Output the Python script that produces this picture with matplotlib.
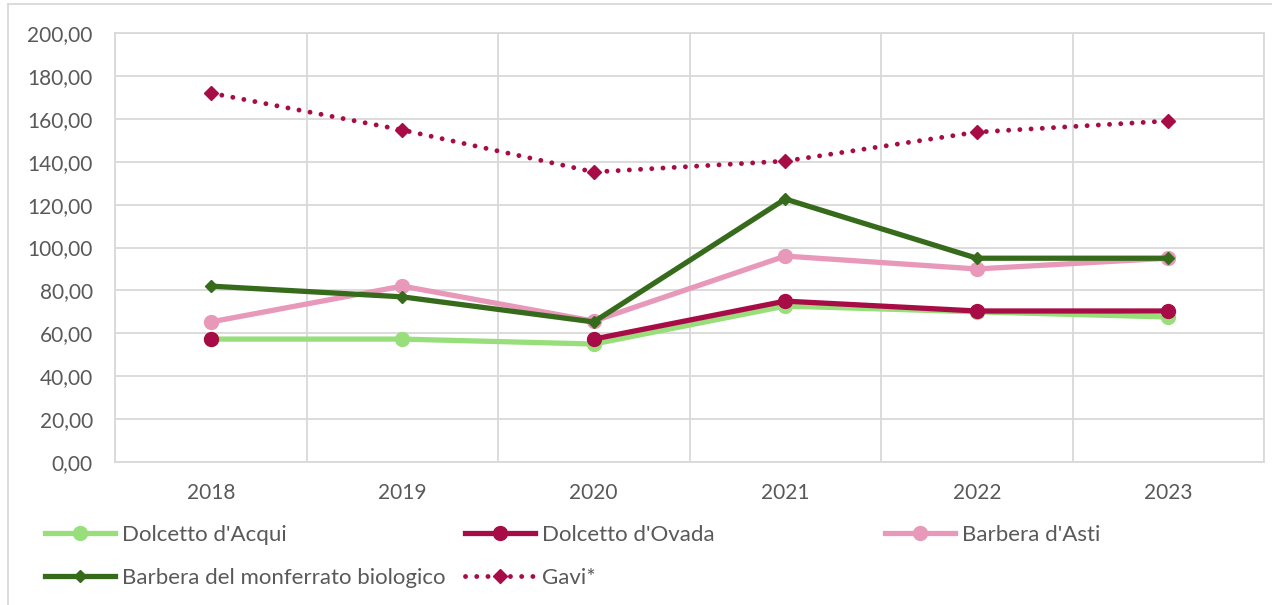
import numpy as np
import matplotlib
matplotlib.use("Agg")
import matplotlib.pyplot as plt
from matplotlib.lines import Line2D

# data (€/q)
years = ["2018", "2019", "2020", "2021", "2022", "2023"]
dolcetto_acqui = [57.3, 57.3, 55.0, 72.7, 70.0, 67.6]
dolcetto_ovada = [57.3, np.nan, 57.3, 75.0, 70.4, 70.4]
barbera_asti = [65.3, 82.0, 65.7, 96.0, 90.0, 95.0]
barbera_monf_bio = [82.0, 77.0, 65.3, 122.6, 95.0, 95.0]
gavi = [172.0, 154.8, 135.2, 140.3, 153.8, 159.0]

plt.rcParams["font.family"] = ["Lato", "DejaVu Sans"]
FS = 15.0
LFS = 16.0
TXT = "#595959"
GRID = "#D9D9D9"

fig = plt.figure(figsize=(12.72, 6.05), dpi=100)
ax = fig.add_axes([115 / 1272, 1 - 462 / 605, (1264 - 115) / 1272, (462 - 33) / 605])

x = np.arange(len(years))

ax.plot(x, dolcetto_acqui, color="#98DF7C", lw=3.8, marker="o", ms=10,
        label="Dolcetto d'Acqui")
ax.plot(x, dolcetto_ovada, color="#A80C47", lw=3.8, marker="o", ms=10,
        label="Dolcetto d'Ovada")
ax.plot(x, barbera_asti, color="#E899B9", lw=3.8, marker="o", ms=10,
        label="Barbera d'Asti")
ax.plot(x, barbera_monf_bio, color="#376B1C", lw=3.8, marker="D", ms=6,
        label="Barbera del monferrato biologico")
ax.plot(x, gavi, color="#A80C47", lw=3.5, ls=(0, (0.01, 2.3)),
        dash_capstyle="round", marker="D", ms=7, label="Gavi*")

ax.set_xlim(-0.5, len(years) - 0.5)
ax.set_ylim(0, 200)
ax.set_yticks(np.arange(0, 201, 20))
ax.set_yticklabels([f"{v:.2f}".replace(".", ",") for v in np.arange(0, 201, 20)])
ax.set_xticks(x)
ax.set_xticklabels(years)
ax.set_xticks(np.arange(-0.5, len(years), 1), minor=True)

ax.grid(axis="y", which="major", color=GRID, lw=1.3)
ax.grid(axis="x", which="minor", color=GRID, lw=1.3)
ax.set_axisbelow(True)
ax.tick_params(which="both", length=0)
ax.tick_params(axis="y", pad=16, labelsize=FS, labelcolor=TXT)
ax.tick_params(axis="x", pad=15, labelsize=FS, labelcolor=TXT)
for s in ax.spines.values():
    s.set_color(GRID)
    s.set_linewidth(1.3)

# legend in three columns placed like the original
h, l = ax.get_legend_handles_labels()
cols = [([h[0], h[3]], [l[0], l[3]], 45),
        ([h[1], h[4]], [l[1], l[4]], 465),
        ([h[2]], [l[2]], 885)]
for hh, ll, px in cols:
    fig.legend(hh, ll, loc="upper left", bbox_to_anchor=(px / 1272, 1 - 525 / 605),
               frameon=False, fontsize=LFS, labelcolor=TXT, handlelength=3.15,
               handletextpad=0.31, labelspacing=1.02, borderpad=0, borderaxespad=0)

# outer chart frame (top and left edges visible)
fig.add_artist(Line2D([8 / 1272, 1], [1 - 4 / 605, 1 - 4 / 605], color=GRID, lw=1.3))
fig.add_artist(Line2D([8 / 1272, 8 / 1272], [0, 1 - 4 / 605], color=GRID, lw=1.3))

fig.savefig("out.png", dpi=100)
